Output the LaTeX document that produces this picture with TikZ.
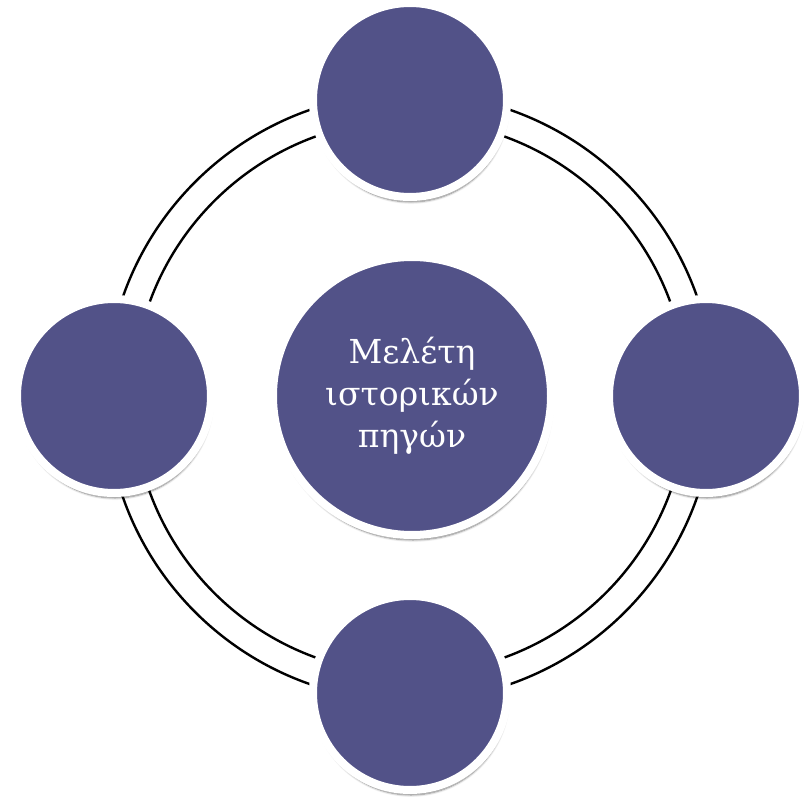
\documentclass[tikz,border=0pt]{standalone}
\usepackage{fontspec}
\setmainfont{DejaVu Serif}
\usetikzlibrary{shadows.blur}
\definecolor{pigi}{RGB}{82,82,136}
\tikzset{
	kyklos/.style={circle,fill=pigi,draw=white,line width=8pt,inner sep=0pt,
		blur shadow={shadow xshift=1pt,shadow yshift=-5pt,shadow blur steps=6,shadow opacity=50}},
	mikros/.style={kyklos,minimum size=194pt},
}
\begin{document}
\begin{tikzpicture}[x=1pt,y=-1pt]
	\useasboundingbox (0,0) rectangle (804,797);
		\draw [line width=2.4pt] (410,397) circle(304);
		\draw [line width=2.4pt] (410,397) circle(277);
		\node[mikros] (pano) at (410,100) {};
		\node[mikros] (dexia) at (706,396) {};
		\node[mikros] (kato) at (410,693) {};
		\node[mikros] (aristera) at (114,396) {};
		\node[kyklos,minimum size=278pt,text=white,align=center,font=\fontsize{33}{42}\selectfont] (meleti) at (412,396) {Μελέτη\\ιστορικών\\πηγών};
	\end{tikzpicture}
\end{document}
